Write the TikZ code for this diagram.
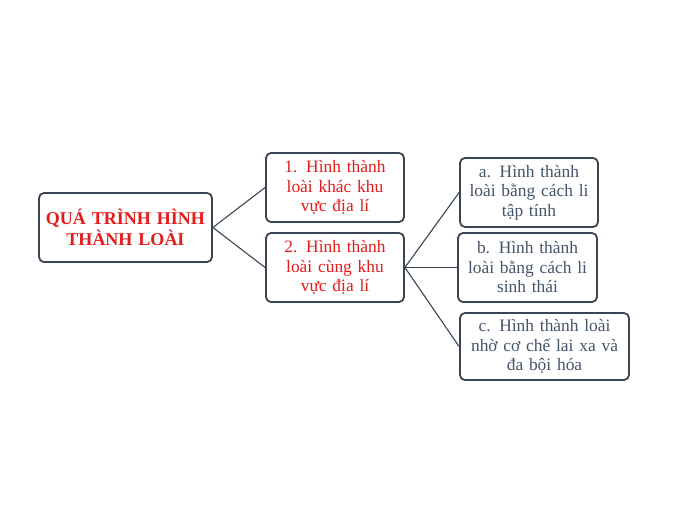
\documentclass[tikz,border=0pt]{standalone}
\usepackage{fontspec}
\setmainfont{Liberation Serif}
\usetikzlibrary{positioning}
\definecolor{boxline}{HTML}{3B4452}
\definecolor{redtext}{HTML}{E31B1B}
\definecolor{greytext}{HTML}{44546A}
\tikzset{
  box/.style={draw=boxline, line width=1.8pt, rounded corners=5pt, fill=white,
    align=center, inner sep=1pt, font=\fontsize{17.4}{19.5}\selectfont},
  link/.style={draw=boxline, line width=1.1pt}
}
\begin{document}
\begin{tikzpicture}[x=1pt,y=-1pt]

    %\draw[step=10,help lines] (0,0) grid (675,506);
    \useasboundingbox (0,0) rectangle (675,506);

    \node[box, minimum width=173pt, minimum height=69pt, text=redtext, text width=170pt,
      font=\fontsize{18}{20.5}\selectfont\bfseries] (process) at (125.5,227.5) {QUÁ TRÌNH HÌNH\\THÀNH LOÀI};

    \node[box, minimum width=138pt, minimum height=69pt, text width=134pt, text=redtext] (allopatric) at (335,187.5) {1. Hình thành\\loài khác khu\\vực địa lí};
    \node[box, minimum width=138pt, minimum height=69pt, text width=134pt, text=redtext] (sympatric) at (335,267.5) {2. Hình thành\\loài cùng khu\\vực địa lí};

    \node[box, minimum width=138pt, minimum height=69pt, text width=134pt, text=greytext] (behaviour) at (529,192.5) {a. Hình thành\\loài bằng cách li\\tập tính};
    \node[box, minimum width=139pt, minimum height=69pt, text width=135pt, text=greytext] (ecology) at (527.5,267.5) {b. Hình thành\\loài bằng cách li\\sinh thái};
    \node[box, minimum width=169pt, minimum height=67pt, text width=165pt, text=greytext] (polyploid) at (544.5,346.5) {c. Hình thành loài\\nhờ cơ chế lai xa và\\đa bội hóa};

    \draw[link] (process.east) to (allopatric.west);
    \draw[link] (process.east) to (sympatric.west);
    \draw[link] (sympatric.east) to (behaviour.west);
    \draw[link] (sympatric.east) to (ecology.west);
    \draw[link] (sympatric.east) to (polyploid.west);
\end{tikzpicture}
\end{document}
